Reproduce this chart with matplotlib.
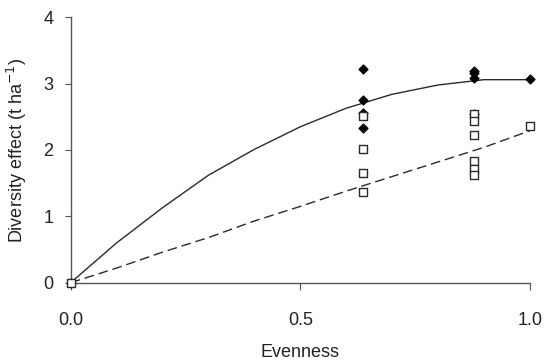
import matplotlib
matplotlib.use("Agg")
import matplotlib.pyplot as plt

plt.rcParams['font.family'] = ['Liberation Sans', 'DejaVu Sans']

# fitted curves (evenness 0..1 in steps of 0.1)
curve_x = [0.0, 0.1, 0.2, 0.3, 0.4, 0.5, 0.6, 0.7, 0.8, 0.9, 1.0]
solid_y = [0.0, 0.60, 1.13, 1.62, 2.01, 2.35, 2.63, 2.84, 2.98, 3.06, 3.06]
dashed_y = [0.0, 0.22, 0.46, 0.68, 0.93, 1.15, 1.38, 1.60, 1.82, 2.04, 2.29]

# observed points
diamond_x = [0.0, 0.637, 0.637, 0.637, 0.637, 0.878, 0.878, 0.878, 0.878, 1.0]
diamond_y = [0.0, 3.22, 2.76, 2.56, 2.33, 3.19, 3.16, 3.09, 2.55, 3.07]
square_x = [0.0, 0.637, 0.637, 0.637, 0.637, 0.878, 0.878, 0.878, 0.878, 0.878, 0.878, 1.0]
square_y = [0.0, 2.51, 2.01, 1.66, 1.37, 2.55, 2.44, 2.22, 1.84, 1.71, 1.62, 2.36]

col = '#2a2a2a'

fig = plt.figure(figsize=(5.46, 3.61), dpi=100)
ax = fig.add_axes([0.1295, 0.217, 0.841, 0.735])

ax.plot(curve_x, solid_y, color=col, lw=1.0, clip_on=False)
ax.plot(curve_x, dashed_y, color=col, lw=1.0, dashes=(7, 3.5), clip_on=False)
ax.scatter(diamond_x, diamond_y, marker='D', s=20, color='black', zorder=3, clip_on=False)
ax.scatter(square_x, square_y, marker='s', s=28, facecolor='white', edgecolor=col,
           linewidth=1.0, zorder=4, clip_on=False)

ax.set_xlim(0, 1)
ax.set_ylim(0, 4)
ax.set_xticks([0.0, 0.5, 1.0])
ax.set_xticklabels(['0.0', '0.5', '1.0'])
ax.set_yticks([0, 1, 2, 3, 4])

for s in ['top', 'right']:
    ax.spines[s].set_visible(False)
for s in ['left', 'bottom']:
    ax.spines[s].set_color('#555555')
    ax.spines[s].set_linewidth(1.0)

ax.tick_params(axis='x', direction='out', length=5, pad=16, labelsize=13, colors='#555555', labelcolor='#222222')
ax.tick_params(axis='y', direction='out', length=4.5, pad=8, labelsize=13, colors='#555555', labelcolor='#222222')

ax.set_xlabel('Evenness', fontsize=13, color='#222222', labelpad=11)
ax.set_ylabel('Diversity effect (t ha$^{-1}$)', fontsize=13, color='#222222', labelpad=10)

fig.savefig('out.png', dpi=100)
